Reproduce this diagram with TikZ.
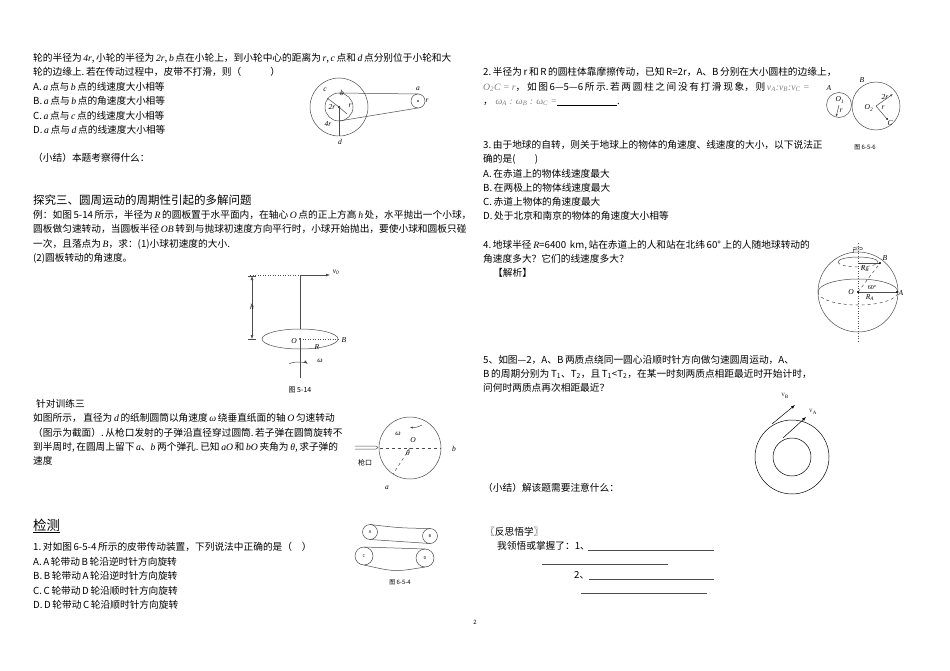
\documentclass[tikz,border=0pt]{standalone}
\usepackage{fontspec}
\setmainfont{Noto Sans CJK SC}
\newfontfamily\lat{Liberation Serif}
\usetikzlibrary{arrows.meta}
\begin{document}
\begin{tikzpicture}[x=1pt,y=-1pt,
 txt/.style={anchor=west,inner sep=0pt,font=\fontsize{9.7}{11}\selectfont},
 lbl/.style={inner sep=0pt,font=\fontsize{7.5}{8}\selectfont\lat\itshape},
 capt/.style={inner sep=0pt,font=\fontsize{6}{7}\selectfont},
 ln/.style={line width=0.5pt,draw=black!70}]
\useasboundingbox[fill=white] (0,0) rectangle (950,671);
% ---- left column
\node[txt] (l1) at (33,58) {轮的半径为\,{\lat\itshape 4r},\,小轮的半径为\,{\lat\itshape 2r},\,{\lat\itshape b}\,点在小轮上，到小轮中心的距离为\,{\lat\itshape r},\,{\lat\itshape c}\,点和\,{\lat\itshape d}\,点分别位于小轮和大};
\node[txt] (l2) at (33,72) {轮的边缘上.\,若在传动过程中，皮带不打滑，则（\qquad\quad）};
\node[txt] (l3) at (33,87) {A.\,{\lat\itshape a}\,点与\,{\lat\itshape b}\,点的线速度大小相等};
\node[txt] (l4) at (33,101) {B.\,{\lat\itshape a}\,点与\,{\lat\itshape b}\,点的角速度大小相等};
\node[txt] (l5) at (33,116) {C.\,{\lat\itshape a}\,点与\,{\lat\itshape c}\,点的线速度大小相等};
\node[txt] (l6) at (33,130) {D.\,{\lat\itshape a}\,点与\,{\lat\itshape d}\,点的线速度大小相等};
\node[txt] (l7) at (33,158) {（小结）本题考察得什么：};
\node[txt,font=\fontsize{11.5}{13}\selectfont] (l8) at (33,200) {探究三、圆周运动的周期性引起的多解问题};
\node[txt] (l9) at (33,215) {例：如图\,5-14\,所示，半径为\,{\lat\itshape R}\,的圆板置于水平面内，在轴心\,{\lat\itshape O}\,点的正上方高\,{\lat\itshape h}\,处，水平抛出一个小球，};
\node[txt] (l10) at (33,229) {圆板做匀速转动，当圆板半径\,{\lat\itshape OB}\,转到与抛球初速度方向平行时，小球开始抛出，要使小球和圆板只碰};
\node[txt] (l11) at (33,244) {一次，且落点为\,{\lat\itshape B}，求：(1)小球初速度的大小.};
\node[txt] (l12) at (33,258) {(2)圆板转动的角速度。};
% belt figure
\coordinate (bc) at (339,107);
\draw[ln] (bc) circle (29);
\draw[ln] (bc) circle (14);
\draw[ln] (418,101) circle (7);
\node[circle,fill,inner sep=0.8pt] (bdot) at (bc) {};
\fill (418,101) circle (0.8);
\draw[ln] (339,93) -- (418,94);
\draw[ln] (339,121) -- (418,108);
\draw[ln] (bc) -- (339,136);
\draw[ln] (bc) -- (327,98);
\draw[ln] (bc) -- (347,114);
\node[lbl] (lc) at (325,90) {c};
\node[lbl] (lb) at (342,93) {b};
\node[lbl] (l2r) at (332,107) {2r};
\node[lbl] (lr) at (350,106) {r};
\node[lbl] (l4r) at (328,124) {4r};
\node[lbl] (ld) at (340,142) {d};
\node[lbl] (la) at (418,89) {a};
\node[lbl] (lr2) at (427,101) {r};
% fig 5-14
\coordinate (top) at (300,275);
\draw[ln,dotted] (250,275) -- (top);
\draw[ln,-{Latex[length=4pt]}] (top) -- (330,275);
\node[lbl] (v0) at (336,272) {v\textsubscript{0}};
\draw[ln] (top) -- (300,378);
\draw[ln,{Latex[length=4pt]}-{Latex[length=4pt]}] (252,276) -- (252,339);
\draw[ln] (248,276) -- (256,276) (248,339) -- (256,339);
\node[lbl] (h) at (252,307) {h};
\draw[ln,fill=white] (300,339) ellipse (38 and 10);
\draw[ln] (300,339) -- (300,378);
\fill (300,339) circle (1);
\draw[ln,dotted] (300,339) -- (338,339);
\node[lbl] (O) at (294,341) {O};
\node[lbl] (B) at (344,340) {B};
\node[lbl] (R) at (317,347) {R};
\draw[ln,-{Latex[length=4pt]}] (289,364) arc (200:340:10 and 3);
\node[lbl] (w) at (320,361) {ω};
\node[txt,anchor=center,font=\fontsize{7}{8}\selectfont] (f514) at (300,390) {图 5-14};
% 针对训练三
\node[txt] (t1) at (36,404) {针对训练三};
\node[txt] (t2) at (33,418) {如图所示，\,直径为\,{\lat\itshape d}\,的纸制圆筒以角速度\,{\lat\itshape ω}\,绕垂直纸面的轴\,{\lat\itshape O}\,匀速转动};
\node[txt] (t3) at (33,433) {（图示为截面）.\,从枪口发射的子弹沿直径穿过圆筒.\,若子弹在圆筒旋转不};
\node[txt] (t4) at (33,447) {到半周时,\,在圆周上留下\,{\lat\itshape a}、{\lat\itshape b}\,两个弹孔.\,已知\,{\lat\itshape aO}\,和\,{\lat\itshape bO}\,夹角为\,{\lat\itshape θ},\,求子弹的};
\node[txt] (t5) at (33,461) {速度};
\coordinate (cc) at (410,448);
\draw[ln] (cc) circle (31);
\draw[ln,dashed] (380,448) -- (441,448);
\draw[ln,dashed] (cc) -- (393,474);
\draw[ln] (355,446) -- (376,446) (355,449) -- (376,449) (376,446) -- (378,447.5) -- (376,449);
\draw[ln,-{Latex[length=3pt]}] (422,425) arc (60:100:18);
\node[lbl] (om) at (398,434) {ω};
\node[lbl] (O2) at (413,440) {O};
\node[lbl] (th) at (408,453) {θ};
\node[lbl] (bb) at (454,449) {b};
\node[lbl] (aa) at (387,488) {a};
\node[txt,anchor=center,font=\fontsize{7}{8}\selectfont] (gun) at (365,463) {枪口};
% 检测
\node[txt,font=\fontsize{13.5}{15}\selectfont] (jc) at (33,526) {\underline{检测}};
\node[txt] (j1) at (33,547) {1.\,对如图\,6-5-4\,所示的皮带传动装置，下列说法中正确的是（\quad）};
\node[txt] (j2) at (33,562) {A.\,A\,轮带动\,B\,轮沿逆时针方向旋转};
\node[txt] (j3) at (33,576) {B.\,B\,轮带动\,A\,轮沿逆时针方向旋转};
\node[txt] (j4) at (33,591) {C.\,C\,轮带动\,D\,轮沿顺时针方向旋转};
\node[txt] (j5) at (33,605) {D.\,D\,轮带动\,C\,轮沿顺时针方向旋转};
\draw[ln] (370,532) circle (7.5); \draw[ln] (430,536) circle (7.5);
\draw[ln] (370,524.5) .. controls (400,528) .. (430,528.5);
\draw[ln] (370,539.5) .. controls (400,541) .. (430,543.5);
\draw[ln] (364,556) circle (9); \draw[ln] (425,558) circle (9);
\draw[ln] (364,547) -- (425,549);
\draw[ln] (364,565) .. controls (395,572) .. (425,567);
\node[lbl,font=\fontsize{4}{5}\selectfont\itshape] (nA) at (370,532) {A};
\node[lbl,font=\fontsize{4}{5}\selectfont\itshape] (nB) at (430,536) {B};
\node[lbl,font=\fontsize{4}{5}\selectfont\itshape] (nC) at (364,556) {C};
\node[lbl,font=\fontsize{4}{5}\selectfont\itshape] (nD) at (425,558) {D};
\node[capt] (f654) at (400,582) {图 6-5-4};
% ---- right column
\node[txt] (r1) at (483,72) {2.\,半径为\,r\,和\,R\,的圆柱体靠摩擦传动，已知\,R=2r，A、B\,分别在大小圆柱的边缘上，};
\node[txt] (r2) at (483,87) {{\color{black!50}\lat\itshape O\textsubscript{2}C = r}，\,如\,图\,6—5—6\,所\,示.\,若\,两\,圆\,柱\,之\,间\,没\,有\,打\,滑\,现\,象，\,则\,{\color{black!50}\lat\itshape v\textsubscript{A}:v\textsubscript{B}:v\textsubscript{C} =}};
\node[txt] (r3) at (483,103) {，\;{\color{black!50}\lat\itshape ω\textsubscript{A} : ω\textsubscript{B} : ω\textsubscript{C} =}\rule[-1pt]{60pt}{0.5pt}.};
\draw[ln] (839,105) circle (12.5);
\draw[ln] (876,106) circle (24);
\draw[ln,-{Latex[length=3pt]}] (839,105) -- (836,117);
\draw[ln,-{Latex[length=3pt]}] (876,106) -- (893,94);
\draw[ln] (876,106) -- (887,119);
\fill (887,119) circle (1);
\node[lbl] (sA) at (829,88) {A};
\node[lbl] (sB) at (862,80) {B};
\node[lbl] (sC) at (890,123) {C};
\node[lbl] (sO1) at (840,100) {O\textsubscript{1}};
\node[lbl] (sr) at (841,111) {r};
\node[lbl] (sO2) at (869,108) {O\textsubscript{2}};
\node[lbl] (s2r) at (885,97) {2r};
\node[lbl] (sr2) at (883,108) {r};
\node[capt] (f656) at (865,147) {图 6-5-6};
\node[txt] (r4) at (483,145) {3.\,由于地球的自转，则关于地球上的物体的角速度、线速度的大小，以下说法正};
\node[txt] (r5) at (483,159) {确的是(\qquad)};
\node[txt] (r6) at (483,174) {A.\,在赤道上的物体线速度最大};
\node[txt] (r7) at (483,188) {B.\,在两极上的物体线速度最大};
\node[txt] (r8) at (483,202) {C.\,赤道上物体的角速度最大};
\node[txt] (r9) at (483,216) {D.\,处于北京和南京的物体的角速度大小相等};
\node[txt] (r10) at (483,245) {4.\,地球半径\,{\lat\itshape R}=6400\, km,\,站在赤道上的人和站在北纬\,60°\,上的人随地球转动的};
\node[txt] (r11) at (483,259) {角速度多大？它们的线速度多大？};
\node[txt] (r12) at (493,273) {【解析】};
% globe
\coordinate (gc) at (858,292);
\draw[ln] (gc) circle (40);
\draw[ln] (818,292) arc (180:360:40 and 13);
\draw[ln,dashed] (818,292) arc (180:0:40 and 13);
\draw[ln] (838,262) arc (180:360:20 and 5);
\draw[ln,dashed] (838,262) arc (180:0:20 and 5);
\draw[ln,dotted] (858,243) -- (858,341);
\draw[ln,->] (853,248) arc (200:520:5 and 1.5);
\draw[ln] (858,263) -- (880,263);
\draw[ln,dashed] (gc) -- (880,263);
\draw[ln] (gc) -- (897,292);
\fill (880,263) circle (1.2) (897,292) circle (1.2) (gc) circle (1.2);
\node[lbl] (gB) at (885,258) {B};
\node[lbl] (gA) at (901,293) {A};
\node[lbl] (gO) at (851,292) {O};
\node[lbl] (gRB) at (865,269) {R\textsubscript{B}};
\node[lbl] (gRA) at (870,298) {R\textsubscript{A}};
\node[lbl,font=\fontsize{6}{7}\selectfont\lat] (g60) at (872,288) {60°};
% question 5
\node[txt] (r13) at (483,360) {5、如图—2，A、B\,两质点绕同一圆心沿顺时针方向做匀速圆周运动，A、};
\node[txt] (r14) at (483,374) {B\,的周期分别为\,T\textsubscript{1}、T\textsubscript{2}，且\,T\textsubscript{1}<T\textsubscript{2}，在某一时刻两质点相距最近时开始计时，};
\node[txt] (r15) at (483,388) {问何时两质点再次相距最近？};
\coordinate (oc) at (792,457);
\draw[ln,draw=black] (oc) circle (37);
\draw[ln,draw=black] (oc) circle (19);
\draw[ln,draw=black,-{Latex[length=4pt]}] (772,424) -- (795,405);
\draw[ln,draw=black,-{Latex[length=4pt]}] (783,438) -- (806,417);
\node[lbl,font=\fontsize{5}{6}\selectfont\lat] (vB) at (785,396) {V\textsubscript{B}};
\node[lbl,font=\fontsize{5}{6}\selectfont\lat] (vA) at (813,412) {V\textsubscript{A}};
\node[txt] (r16) at (483,488) {（小结）解该题需要注意什么：};
\node[txt] (r17) at (485,532) {〖反思悟学〗};
\node[txt] (r18) at (497,546) {我领悟或掌握了：1、};
\draw[ln] (588,550) -- (714,550);
\draw[ln] (542,564) -- (668,564);
\node[txt] (r19) at (574,575) {2、};
\draw[ln] (589,579) -- (714,579);
\draw[ln] (581,593) -- (707,593);
\node[capt] (pg) at (475,622) {2};
\end{tikzpicture}
\end{document}
